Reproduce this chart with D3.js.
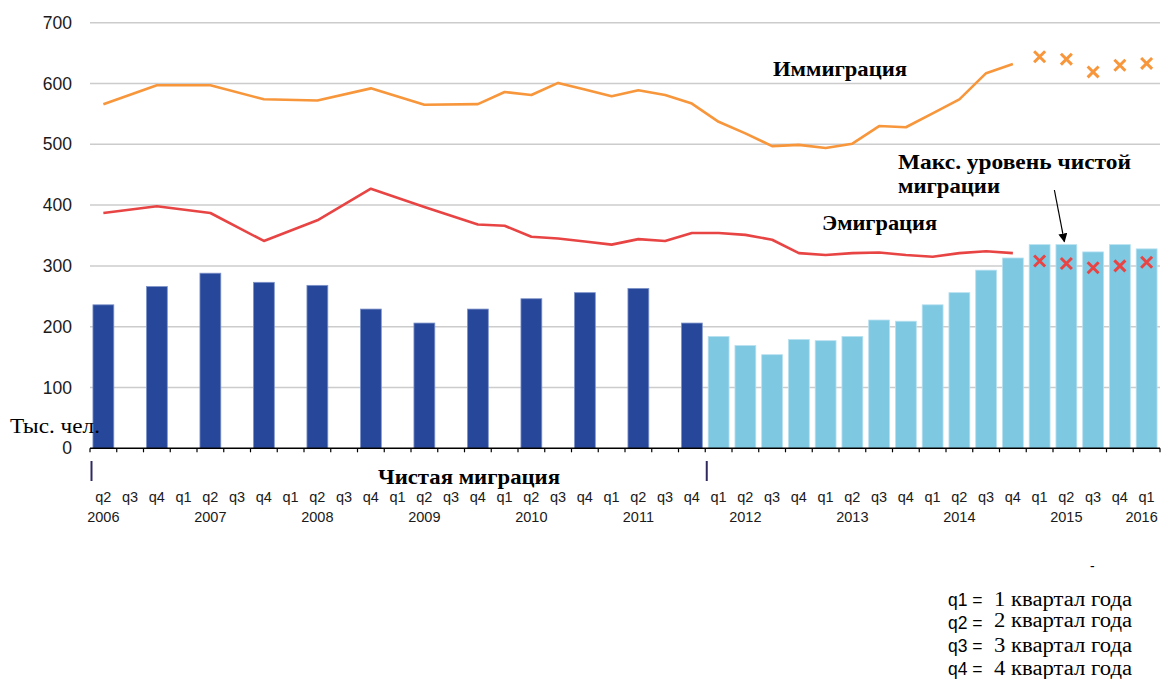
<!DOCTYPE html>
<html>
<head>
<meta charset="utf-8">
<script src="https://cdn.jsdelivr.net/npm/d3@7"></script>
<style>
  html, body { margin: 0; padding: 0; background: #ffffff; }
  svg { display: block; }
</style>
</head>
<body>
<svg id="chart" width="1164" height="679"></svg>
<script>
// ---------------- DATA ----------------
const categories = [
  "2006 q2","2006 q3","2006 q4",
  "2007 q1","2007 q2","2007 q3","2007 q4",
  "2008 q1","2008 q2","2008 q3","2008 q4",
  "2009 q1","2009 q2","2009 q3","2009 q4",
  "2010 q1","2010 q2","2010 q3","2010 q4",
  "2011 q1","2011 q2","2011 q3","2011 q4",
  "2012 q1","2012 q2","2012 q3","2012 q4",
  "2013 q1","2013 q2","2013 q3","2013 q4",
  "2014 q1","2014 q2","2014 q3","2014 q4",
  "2015 q1","2015 q2","2015 q3","2015 q4",
  "2016 q1"
];
const quarterLabels = [
  "q2","q3","q4",
  "q1","q2","q3","q4", "q1","q2","q3","q4", "q1","q2","q3","q4",
  "q1","q2","q3","q4", "q1","q2","q3","q4", "q1","q2","q3","q4",
  "q1","q2","q3","q4", "q1","q2","q3","q4", "q1","q2","q3","q4",
  "q1"
];
const yearLabels = ["2006","2007","2008","2009","2010","2011","2012","2013","2014","2015","2016"];
const yearLabelAt = ["2006 q2","2007 q2","2008 q2","2009 q2","2010 q2","2011 q2","2012 q2","2013 q2","2014 q2","2015 q2","2016 q1"];

// Net migration (bars), thousand people; null = no bar
const netMigration = [
  236, null, 266, null, 288, null, 273, null, 268, null, 229, null,
  206, null, 229, null, 246, null, 256, null, 263, null, 206,
  184, 169, 154, 179, 177, 184, 211, 209, 236, 256, 293, 313,
  335, 335, 323, 335, 328
];
const recentStart = "2012 q1"; // light bars from here on

// Immigration line (null = no point)
const immigration = [
  566, null, 597, null, 597, null, 574, null, 572, null, 592, null,
  565, null, 566, 586, 581, 601, 590, 579, 589, 581, 567,
  537, 518, 497, 499, 494, 501, 530, 528, 551, 574, 617, 632,
  null, null, null, null, null
];
// Emigration line (null = no point)
const emigration = [
  387, null, 398, null, 387, null, 341, null, 375, null, 427, null,
  397, null, 368, 366, 348, 345, 340, 335, 344, 341, 354,
  354, 351, 343, 321, 318, 321, 322, 318, 315, 321, 324, 321,
  null, null, null, null, null
];
// Separate markers (crosses) for the last quarters
const markerCategories = ["2015 q1","2015 q2","2015 q3","2015 q4","2016 q1"];
const immigrationMarks = [644, 640, 619, 630, 633];
const emigrationMarks  = [308, 304, 297, 300, 306];

const yTicks = [0, 100, 200, 300, 400, 500, 600, 700];

const legendKeys  = ["q1 =", "q2 =", "q3 =", "q4 ="];
const legendTexts = ["1 квартал года", "2 квартал года", "3 квартал года", "4 квартал года"];

// ---------------- STYLE ----------------
const C = {
  dark: "#27479a",
  light: "#7ec8e2",
  orange: "#f7963b",
  red: "#e84444",
  grid: "#cccccc",
  text: "#1a1a1a"
};
const SANS = "'Liberation Sans', Arial, sans-serif";
const SERIF = "'Liberation Serif', 'Times New Roman', serif";

// ---------------- CHART ----------------
const svg = d3.select("#chart");
const plot = { left: 90, right: 1160, top: 22.7, bottom: 448.3 };

const x = d3.scaleBand()
  .domain(categories)
  .range([plot.left, plot.right])
  .paddingInner(0.22)
  .paddingOuter(0.11);
const y = d3.scaleLinear().domain([0, 700]).range([plot.bottom, plot.top]);
const cx = c => x(c) + x.bandwidth() / 2;

// gridlines
svg.append("g").selectAll("line")
  .data(yTicks.filter(v => v > 0))
  .join("line")
  .attr("x1", plot.left).attr("x2", plot.right)
  .attr("y1", d => y(d)).attr("y2", d => y(d))
  .attr("stroke", C.grid).attr("stroke-width", 1.5);

// y axis labels
const yAxis = d3.axisLeft(y).tickValues(yTicks).tickSize(0).tickPadding(3).tickFormat(d3.format("d"));
const yg = svg.append("g").attr("transform", `translate(75,0)`).call(yAxis);
yg.select(".domain").remove();
yg.selectAll("text")
  .attr("font-family", SANS).attr("font-size", 17.5).attr("fill", C.text);

// bars
const recentIdx = categories.indexOf(recentStart);
const barData = categories.map((c, i) => ({ c, i, v: netMigration[i] })).filter(d => d.v != null);
svg.append("g").selectAll("rect")
  .data(barData)
  .join("rect")
  .attr("x", d => x(d.c))
  .attr("width", x.bandwidth())
  .attr("y", d => y(d.v))
  .attr("height", d => y(0) - y(d.v))
  .attr("fill", d => d.i >= recentIdx ? C.light : C.dark)
  .attr("stroke", d => d.i >= recentIdx ? "#b9e1f0" : "#7e93c9")
  .attr("stroke-width", 0.8);

// lines
const line = d3.line().x(d => cx(d.c)).y(d => y(d.v));
function drawLine(values, color) {
  const pts = categories.map((c, i) => ({ c, v: values[i] })).filter(d => d.v != null);
  svg.append("path")
    .datum(pts)
    .attr("d", line)
    .attr("fill", "none")
    .attr("stroke", color)
    .attr("stroke-width", 2.6)
    .attr("stroke-linejoin", "round");
}
drawLine(immigration, C.orange);
drawLine(emigration, C.red);

// cross markers
const cross = d3.symbol().type(d3.symbolTimes).size(80);
function drawMarks(values, color) {
  svg.append("g").selectAll("path")
    .data(markerCategories.map((c, i) => ({ c, v: values[i] })))
    .join("path")
    .attr("d", cross)
    .attr("transform", d => `translate(${cx(d.c)},${y(d.v)})`)
    .attr("fill", "none")
    .attr("stroke", color)
    .attr("stroke-width", 3);
}
drawMarks(immigrationMarks, C.orange);
drawMarks(emigrationMarks, C.red);

// x axis line and ticks
svg.append("line")
  .attr("x1", plot.left).attr("x2", plot.right)
  .attr("y1", y(0)).attr("y2", y(0))
  .attr("stroke", "#000").attr("stroke-width", 1.5);
const step = x.step();
const boundaries = categories.map(c => x(c) - step * x.paddingInner() / 2)
  .concat([x(categories[categories.length - 1]) + x.bandwidth() + step * x.paddingInner() / 2]);
svg.append("g").selectAll("line")
  .data(boundaries)
  .join("line")
  .attr("x1", d => d).attr("x2", d => d)
  .attr("y1", y(0)).attr("y2", y(0) + 4)
  .attr("stroke", "#000").attr("stroke-width", 1.2);

// period separators
[categories[0], recentStart].forEach(c => {
  const bx = x(c) - step * x.paddingInner() / 2 + 1.5;
  svg.append("line")
    .attr("x1", bx).attr("x2", bx)
    .attr("y1", 461).attr("y2", 481)
    .attr("stroke", "#2e2a5e").attr("stroke-width", 2);
});

// quarter labels
svg.append("g").selectAll("text")
  .data(categories.map((c, i) => ({ c, t: quarterLabels[i] })))
  .join("text")
  .attr("x", d => cx(d.c))
  .attr("y", 502)
  .attr("text-anchor", "middle")
  .attr("font-family", SANS).attr("font-size", 14.5).attr("fill", C.text)
  .text(d => d.t);

// year labels
svg.append("g").selectAll("text")
  .data(yearLabels.map((t, i) => ({ t, c: yearLabelAt[i] })))
  .join("text")
  .attr("x", (d, i) => i === yearLabels.length - 1 ? cx(d.c) - 5 : cx(d.c))
  .attr("y", 522)
  .attr("text-anchor", "middle")
  .attr("font-family", SANS).attr("font-size", 14.5).attr("fill", C.text)
  .text(d => d.t);

// serif text helper (Times-like, slightly wide as in the original)
function serifText(t, xx, yy, size, len, bold) {
  svg.append("text")
    .attr("x", xx).attr("y", yy)
    .attr("font-family", SERIF)
    .attr("font-weight", bold ? "bold" : "normal")
    .attr("font-size", size).attr("fill", "#000")
    .attr("textLength", len).attr("lengthAdjust", "spacingAndGlyphs")
    .text(t);
}

// unit label
serifText("Тыс. чел.", 10, 433, 21, 90, false);

// annotations
serifText("Иммиграция", 773, 76, 21, 134, true);
serifText("Эмиграция", 822, 230, 21, 115, true);
serifText("Макс. уровень чистой", 898, 169, 21, 233, true);
serifText("миграции", 898, 193, 21, 102, true);
serifText("Чистая миграция", 378, 484, 21, 182, true);

// arrow to the maximum net migration bar
const tipX = cx("2015 q2") - 2;
const tipY = y(netMigration[categories.indexOf("2015 q2")]) - 3;
svg.append("defs").append("marker")
  .attr("id", "arrowhead")
  .attr("viewBox", "0 0 10 10")
  .attr("refX", 9).attr("refY", 5)
  .attr("markerWidth", 9).attr("markerHeight", 9)
  .attr("markerUnits", "userSpaceOnUse")
  .attr("orient", "auto")
  .append("path").attr("d", "M0,0 L10,5 L0,10 z").attr("fill", "#000");
svg.append("line")
  .attr("x1", tipX - 10).attr("y1", 190)
  .attr("x2", tipX).attr("y2", tipY)
  .attr("stroke", "#000").attr("stroke-width", 1.2)
  .attr("marker-end", "url(#arrowhead)");

// legend of quarter abbreviations
svg.append("text")
  .attr("x", 1090).attr("y", 571)
  .attr("font-family", SANS).attr("font-size", 14).attr("fill", "#000")
  .text("-");
legendKeys.forEach((k, i) => {
  const by = 606 + i * 23;
  svg.append("text")
    .attr("x", 948).attr("y", by)
    .attr("font-family", SANS).attr("font-size", 17.5).attr("fill", "#000")
    .text(k);
  serifText(legendTexts[i], 994, by - (i === 1 ? 2 : 0), 20, 138, false);
});
</script>
</body>
</html>
